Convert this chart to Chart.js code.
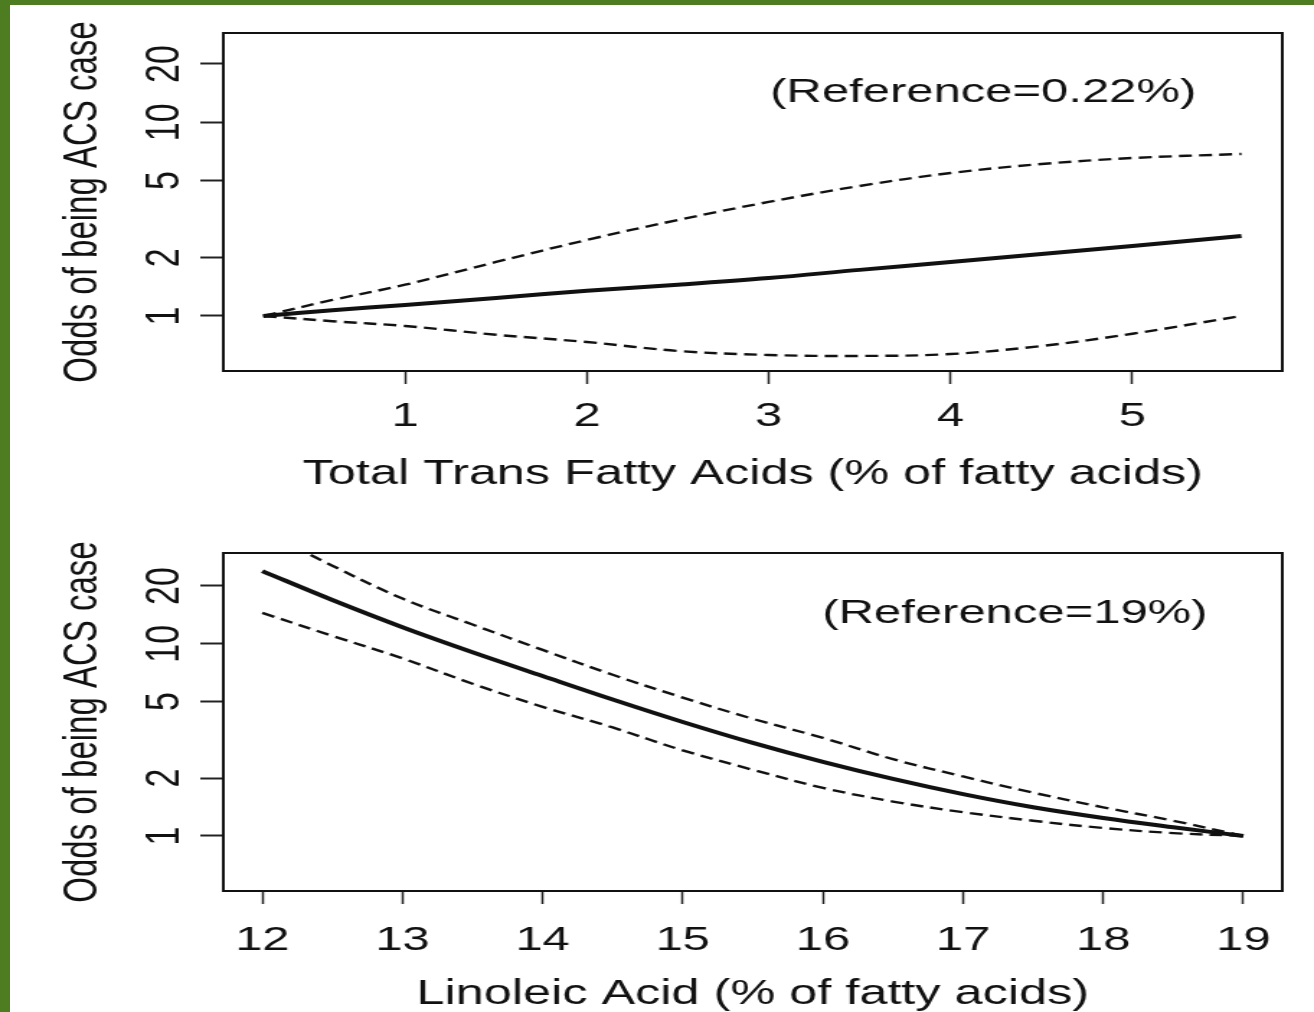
<!DOCTYPE html>
<html lang="en">
<head>
<meta charset="UTF-8">
<title>Odds of being ACS case</title>
<script src="https://cdn.jsdelivr.net/npm/chart.js"></script>
<style>
  body { margin: 0; background: #fff; }
  #wrap { position: relative; width: 1314px; height: 1012px; overflow: hidden; background: #fff; }
  .edge { position: absolute; background: #4d7c21; }
  canvas { position: absolute; left: 0; }
</style>
</head>
<body>
<div id="wrap">
  <div class="edge" style="left:0;top:0;width:1314px;height:5px"></div>
  <div class="edge" style="left:0;top:0;width:10px;height:1012px"></div>
  <!-- drawn narrow and stretched sideways, like the scanned figure -->
  <canvas id="trans" width="912" height="506" style="top:0;width:1314px;height:506px"></canvas>
  <canvas id="linoleic" width="912" height="506" style="top:506px;width:1314px;height:506px"></canvas>
</div>
<script>
// top panel: total trans fatty acids
const transX     = [0.22, 0.6, 1, 1.5, 2, 2.5, 3, 3.5, 4, 4.5, 5, 5.6];
const transOdds  = [1, 1.07, 1.14, 1.24, 1.35, 1.45, 1.57, 1.73, 1.90, 2.09, 2.30, 2.59];
const transUpper = [1, 1.21, 1.45, 1.90, 2.47, 3.13, 3.88, 4.69, 5.47, 6.09, 6.54, 6.86];
const transLower = [1, 0.94, 0.888, 0.80, 0.734, 0.66, 0.629, 0.622, 0.636, 0.70, 0.81, 1.0];
const transTicks = [1, 2, 3, 4, 5];

// bottom panel: linoleic acid
const linX     = [12, 12.5, 13, 13.5, 14, 14.5, 15, 15.5, 16, 16.5, 17, 17.5, 18, 18.5, 19];
const linOdds  = [23.9, 16.9, 12.2, 9.04, 6.80, 5.13, 3.92, 3.05, 2.43, 1.98, 1.65, 1.41, 1.24, 1.11, 1];
const linUpper = [39, 25.5, 17.2, 12.6, 9.3, 6.9, 5.25, 4.07, 3.24, 2.51, 2.04, 1.68, 1.41, 1.20, 1];
const linLower = [14.5, 11.0, 8.4, 6.2, 4.7, 3.67, 2.79, 2.21, 1.78, 1.51, 1.33, 1.20, 1.10, 1.035, 1];
const linTicks = [12, 13, 14, 15, 16, 17, 18, 19];

const oddsTicks = [1, 2, 5, 10, 20];

const family = "'Liberation Sans', Arial, Helvetica, sans-serif";
const ink = '#111';

const boxPlugin = {
  id: 'box',
  afterDatasetsDraw(chart, args, opts) {
    const { ctx, chartArea: a, scales } = chart;
    ctx.save();
    ctx.strokeStyle = ink;
    ctx.lineWidth = 2;
    ctx.strokeRect(a.left, a.top, a.right - a.left, a.bottom - a.top);
    ctx.font = '34px ' + family;
    ctx.fillStyle = ink;
    ctx.textAlign = 'center';
    ctx.textBaseline = 'middle';
    ctx.fillText(opts.text, scales.x.getPixelForValue(opts.at[0]), scales.y.getPixelForValue(opts.at[1]));
    ctx.restore();
  }
};

function pts(xs, ys) {
  return xs.map((x, i) => ({ x: x, y: ys[i] }));
}

function line(data, solid) {
  return {
    data: data,
    borderColor: ink,
    borderWidth: solid ? 4 : 2.4,
    borderDash: solid ? [] : [9, 5],
    pointRadius: 0,
    tension: 0.35,
    fill: false
  };
}

function panel(id, p) {
  new Chart(document.getElementById(id), {
    type: 'line',
    data: {
      datasets: [
        line(pts(p.x, p.upper), false),
        line(pts(p.x, p.lower), false),
        line(pts(p.x, p.odds), true)
      ]
    },
    plugins: [boxPlugin],
    options: {
      responsive: false,
      animation: false,
      events: [],
      layout: { padding: { top: p.top, right: 22, left: 0, bottom: 0 } },
      plugins: {
        legend: { display: false },
        tooltip: { enabled: false },
        box: { text: p.note, at: p.noteAt }
      },
      scales: {
        x: {
          type: 'linear',
          min: p.xMin,
          max: p.xMax,
          afterBuildTicks: s => { s.ticks = p.ticks.map(v => ({ value: v })); },
          afterFit: s => { s.height = p.xAxisH; },
          border: { display: false },
          grid: { drawOnChartArea: false, drawTicks: true, tickLength: 13, tickWidth: 1.5, tickColor: '#222' },
          ticks: { font: { family: family, size: 34 }, color: ink, padding: p.tickPad, maxRotation: 0, autoSkip: false, callback: v => String(v) },
          title: { display: true, text: p.title, color: ink, font: { family: family, size: 35, lineHeight: 1 }, padding: { top: 0, bottom: p.titlePad } }
        },
        y: {
          type: 'logarithmic',
          min: p.yMin,
          max: p.yMax,
          afterBuildTicks: s => { s.ticks = oddsTicks.map(v => ({ value: v })); },
          afterFit: s => { s.width = 155; },
          border: { display: false },
          grid: { drawOnChartArea: false, drawTicks: true, tickLength: 16, tickWidth: 2, tickColor: '#222' },
          ticks: { font: { family: family, size: 34 }, color: ink, minRotation: 90, maxRotation: 90, crossAlign: 'center', padding: 5, autoSkip: false, callback: v => String(v) },
          title: { display: true, text: 'Odds of being ACS case', color: ink, font: { family: family, size: 33, lineHeight: 1 }, padding: { top: 41, bottom: 0 } }
        }
      }
    }
  });
}

panel('trans', {
  x: transX, odds: transOdds, upper: transUpper, lower: transLower, ticks: transTicks,
  xMin: 0, xMax: 5.825, yMin: 0.52, yMax: 28.9,
  top: 33, xAxisH: 135, tickPad: 12, titlePad: 14,
  title: 'Total Trans Fatty Acids (% of fatty acids)',
  note: '(Reference=0.22%)', noteAt: [4.18, 14.2]
});

panel('linoleic', {
  x: linX, odds: linOdds, upper: linUpper, lower: linLower, ticks: linTicks,
  xMin: 11.722, xMax: 19.278, yMin: 0.517, yMax: 29.7,
  top: 47, xAxisH: 121, tickPad: 16, titlePad: 0,
  title: 'Linoleic Acid (% of fatty acids)',
  note: '(Reference=19%)', noteAt: [17.37, 14.4]
});
</script>
</body>
</html>
